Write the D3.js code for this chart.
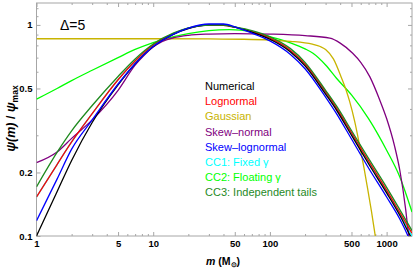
<!DOCTYPE html>
<html>
<head>
<meta charset="utf-8">
<script src="https://cdn.jsdelivr.net/npm/d3@7"></script>
<style>
  body { margin: 0; background: #fff; }
  svg { display: block; font-family: "Liberation Sans", Arial, sans-serif; }
</style>
</head>
<body>
<svg id="chart" width="415" height="270"></svg>
<script>
/* values, [mass, psi/psi_max] */
var numerical = [[1,0.1],[1.5,0.162],[2,0.228],[3,0.345],[5,0.52],[7,0.655],[10,0.79],[15,0.905],[20,0.96],[30,1.0],[40,1.0],[50,0.975],[70,0.925],[100,0.855],[150,0.745],[200,0.64],[300,0.47],[372,0.395],[500,0.3],[700,0.22],[1000,0.16],[1300,0.125],[1600,0.1],[1650,0.097]];
var lognormal = [[1,0.153],[1.5,0.218],[2,0.279],[3,0.38],[5,0.55],[7,0.675],[10,0.805],[15,0.91],[20,0.965],[30,0.998],[40,0.995],[50,0.975],[70,0.93],[100,0.865],[150,0.757],[200,0.653],[300,0.482],[372,0.405],[500,0.309],[700,0.227],[1000,0.165],[1300,0.129],[1650,0.103]];
var gaussian = [[1,0.86],[10,0.86],[30,0.858],[60,0.855],[100,0.848],[150,0.836],[231,0.81],[270,0.79],[300,0.765],[350,0.69],[411,0.56],[450,0.49],[482,0.434],[532,0.35],[586,0.27],[640,0.21],[687,0.168],[740,0.132],[789,0.105],[810,0.095]];
var skewNormal = [[1,0.2225],[1.5,0.25],[2,0.29],[3,0.355],[5,0.49],[7,0.645],[8.4,0.72],[10,0.785],[12,0.835],[15,0.87],[20,0.893],[30,0.905],[50,0.91],[100,0.905],[200,0.89],[326,0.865],[400,0.82],[512,0.734],[600,0.665],[717,0.569],[873,0.441],[1000,0.36],[1173,0.265],[1295,0.206],[1458,0.133],[1525,0.107],[1560,0.098]];
var skewLognormal = [[1,0.118],[1.5,0.186],[2,0.258],[3,0.355],[5,0.525],[7,0.655],[10,0.79],[15,0.905],[20,0.965],[30,1.01],[40,1.01],[50,0.98],[70,0.915],[100,0.84],[150,0.725],[200,0.62],[300,0.455],[372,0.38],[500,0.288],[700,0.21],[1000,0.153],[1300,0.12],[1525,0.1],[1650,0.09]];
var cc1 = [[1,0.153],[1.5,0.218],[2,0.279],[3,0.38],[5,0.55],[7,0.675],[10,0.805],[15,0.91],[20,0.965],[30,0.998],[40,0.995],[50,0.975],[70,0.928],[100,0.86],[150,0.75],[200,0.647],[300,0.476],[372,0.4],[500,0.305],[700,0.224],[1000,0.163],[1300,0.127],[1650,0.1]];
var cc2 = [[1,0.445],[1.5,0.5],[2,0.545],[3,0.61],[5,0.7],[7,0.765],[10,0.825],[15,0.88],[20,0.91],[30,0.94],[45,0.95],[70,0.93],[100,0.88],[121.6,0.854],[150,0.822],[200,0.77],[234,0.734],[300,0.646],[372,0.559],[500,0.466],[700,0.36],[1000,0.255],[1295,0.191],[1650,0.13]];
var cc3 = [[1,0.171],[1.5,0.249],[2,0.315],[3,0.415],[5,0.57],[7,0.69],[10,0.812],[15,0.916],[20,0.968],[30,0.998],[40,0.998],[50,0.978],[70,0.94],[100,0.878],[150,0.772],[200,0.665],[300,0.49],[372,0.413],[500,0.316],[700,0.233],[1000,0.17],[1300,0.133],[1650,0.106]];

var seriesNames = ["Numerical","Lognormal","Gaussian","Skew\u2013normal","Skew\u2013lognormal","CC1: Fixed \u03b3","CC2: Floating \u03b3","CC3: Independent tails"];
var seriesColors = ["#000000","#ff0000","#c8b400","#800080","#0000ff","#00ffff","#00ff00","#1f8a1f"];
var seriesData = [numerical, lognormal, gaussian, skewNormal, skewLognormal, cc1, cc2, cc3];
var drawOrder = [5, 6, 2, 3, 1, 0, 7, 4];

var xMajor = [1, 5, 10, 50, 100, 500, 1000];
var xMinor = [2,3,4,6,7,8,9,20,30,40,60,70,80,90,200,300,400,600,700,800,900];
var yMajor = [0.1, 0.2, 0.5, 1];
var yMinor = [0.3,0.4,0.6,0.7,0.8,0.9,1.1,1.2];

/* plot box in pixels (avoid the name "top", it is window.top) */
var padLeft = 36.5, padRight = 412, padTop = 3, padBottom = 236;
var frameColor = "#a6a6a6";

var svg = d3.select("#chart");

var x = d3.scaleLog().domain([1, 1650]).range([padLeft, padRight]);
var y = d3.scaleLog().domain([0.1, 1.27]).range([padBottom, padTop]);

svg.append("defs").append("clipPath").attr("id", "plotClip")
  .append("rect").attr("x", padLeft).attr("y", padTop)
  .attr("width", padRight - padLeft).attr("height", padBottom - padTop);

/* frame ticks, pointing inwards on all four sides */
function styleAxis(g) {
  g.select(".domain").remove();
  g.selectAll(".tick line").attr("stroke", frameColor);
  g.selectAll(".tick text").attr("fill", "#000")
    .style("font-size", "9.5px").style("font-weight", "bold");
}
var fmt = function(d) { return String(d); };

svg.append("g").attr("transform", "translate(0," + padBottom + ")")
  .call(d3.axisBottom(x).tickValues(xMajor).tickSize(-4).tickPadding(4).tickFormat(fmt)).call(styleAxis);
svg.append("g").attr("transform", "translate(0," + padBottom + ")")
  .call(d3.axisBottom(x).tickValues(xMinor).tickSize(-2).tickFormat("")).call(styleAxis);
svg.append("g").attr("transform", "translate(0," + padTop + ")")
  .call(d3.axisTop(x).tickValues(xMajor).tickSize(-4).tickFormat("")).call(styleAxis);
svg.append("g").attr("transform", "translate(0," + padTop + ")")
  .call(d3.axisTop(x).tickValues(xMinor).tickSize(-2).tickFormat("")).call(styleAxis);

svg.append("g").attr("transform", "translate(" + padLeft + ",0)")
  .call(d3.axisLeft(y).tickValues(yMajor).tickSize(-4).tickPadding(4).tickFormat(fmt)).call(styleAxis);
svg.append("g").attr("transform", "translate(" + padLeft + ",0)")
  .call(d3.axisLeft(y).tickValues(yMinor).tickSize(-2).tickFormat("")).call(styleAxis);
svg.append("g").attr("transform", "translate(" + padRight + ",0)")
  .call(d3.axisRight(y).tickValues(yMajor).tickSize(-4).tickFormat("")).call(styleAxis);
svg.append("g").attr("transform", "translate(" + padRight + ",0)")
  .call(d3.axisRight(y).tickValues(yMinor).tickSize(-2).tickFormat("")).call(styleAxis);

svg.append("rect").attr("x", padLeft).attr("y", padTop)
  .attr("width", padRight - padLeft).attr("height", padBottom - padTop)
  .attr("fill", "none").attr("stroke", frameColor).attr("stroke-width", 1);

/* curves */
var line = d3.line()
  .x(function(d) { return x(d[0]); })
  .y(function(d) { return y(d[1]); })
  .curve(d3.curveMonotoneX);

var curves = svg.append("g").attr("clip-path", "url(#plotClip)");
drawOrder.forEach(function(i) {
  curves.append("path")
    .datum(seriesData[i])
    .attr("fill", "none")
    .attr("stroke", seriesColors[i])
    .attr("stroke-width", 1.3)
    .attr("d", line);
});

/* legend */
var legend = svg.append("g").attr("transform", "translate(205,90)");
seriesNames.forEach(function(name, i) {
  legend.append("text")
    .attr("x", 0).attr("y", i * 15.2)
    .attr("fill", seriesColors[i])
    .style("font-size", "11px")
    .text(name);
});

svg.append("text").attr("x", 60).attr("y", 30)
  .style("font-size", "14px").text("\u0394=5");

/* axis titles */
var xt = svg.append("text").attr("x", 223).attr("y", 265)
  .attr("text-anchor", "middle").style("font-size", "10.5px").style("font-weight", "bold");
xt.append("tspan").style("font-style", "italic").text("m");
xt.append("tspan").text(" (M");
xt.append("tspan").attr("dy", 2).style("font-size", "7px").text("\u2299");
xt.append("tspan").attr("dy", -2).text(")");

var yt = svg.append("text")
  .attr("transform", "translate(14.5,118.5) rotate(-90)")
  .attr("text-anchor", "middle").style("font-size", "12.5px").style("font-weight", "bold");
yt.append("tspan").style("font-style", "italic").text("\u03c8(m)");
yt.append("tspan").text(" / ");
yt.append("tspan").style("font-style", "italic").text("\u03c8");
yt.append("tspan").attr("dy", 3).style("font-size", "8.5px").text("max");
</script>
</body>
</html>
